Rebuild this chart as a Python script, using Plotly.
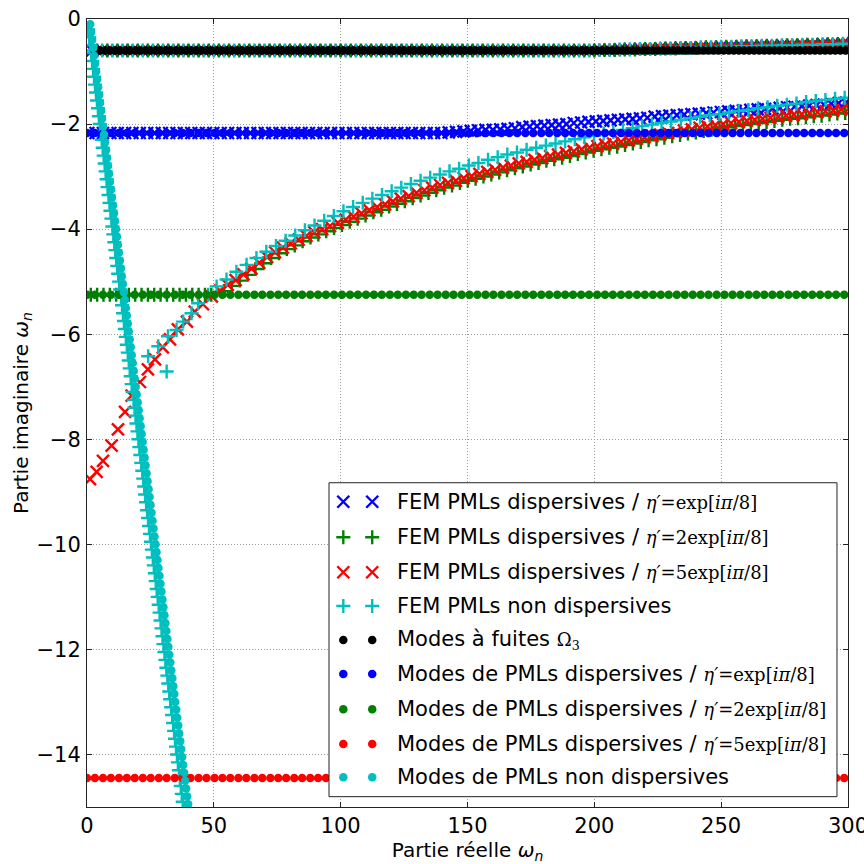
import plotly.graph_objects as go

# ---------------- data ----------------
# Modes à fuites Omega_3 (black dots): real parts, common imaginary part
leaky_re = [3, 5, 7, 9, 11, 13, 15, 17, 19, 21, 23, 25, 27, 29, 31, 33, 35, 37, 39, 41,
            43, 45, 47, 49, 51, 53, 55, 57, 59, 61, 63, 65, 67, 69, 71, 73, 75, 77, 79, 81,
            83, 85, 87, 89, 91, 93, 95, 97, 99, 101, 103, 105, 107, 109, 111, 113, 115, 117,
            119, 121, 123, 125, 127, 129, 131, 133, 135, 137, 139, 141, 143, 145, 147, 149,
            151, 153, 155, 157, 159, 161, 163, 165, 167, 169, 171, 173, 175, 177, 179, 181,
            183, 185, 187, 189, 191, 193, 195, 197, 199, 201, 203, 205, 207, 209, 211, 213,
            215, 217, 219, 221, 223, 225, 227, 229, 231, 233, 235, 237, 239, 241, 243, 245,
            247, 249, 251, 253, 255, 257, 259, 261, 263, 265, 267, 269, 271, 273, 275, 277,
            279, 281, 283, 285, 287, 289, 291, 293, 295, 297, 299]
leaky_im = -0.60

# Dispersive PML modes (dots): shared real parts, one imaginary part per eta'
pml_re = [0, 3.1, 6.3, 9.4, 12.6, 15.7, 18.8, 22.0, 25.1, 28.3, 31.4, 34.6, 37.7, 40.8,
          44.0, 47.1, 50.3, 53.4, 56.5, 59.7, 62.8, 66.0, 69.1, 72.3, 75.4, 78.5, 81.7,
          84.8, 88.0, 91.1, 94.2, 97.4, 100.5, 103.7, 106.8, 110.0, 113.1, 116.2, 119.4,
          122.5, 125.7, 128.8, 131.9, 135.1, 138.2, 141.4, 144.5, 147.7, 150.8, 153.9,
          157.1, 160.2, 163.4, 166.5, 169.6, 172.8, 175.9, 179.1, 182.2, 185.4, 188.5,
          191.6, 194.8, 197.9, 201.1, 204.2, 207.3, 210.5, 213.6, 216.8, 219.9, 223.1,
          226.2, 229.3, 232.5, 235.6, 238.8, 241.9, 245.0, 248.2, 251.3, 254.5, 257.6,
          260.8, 263.9, 267.0, 270.2, 273.3, 276.5, 279.6, 282.7, 285.9, 289.0, 292.2,
          295.3, 298.5]
pml_im_eta1 = -2.17
pml_im_eta2 = -5.25
pml_im_eta5 = -14.45

# Non-dispersive PML modes (cyan dots)
ndpml_re = [1.26, 1.65, 2.04, 2.43, 2.82, 3.21, 3.60, 3.99, 4.38, 4.77, 5.16, 5.55, 5.94,
            6.33, 6.72, 7.11, 7.50, 7.89, 8.28, 8.67, 9.06, 9.45, 9.84, 10.23, 10.62, 11.01,
            11.40, 11.79, 12.18, 12.57, 12.96, 13.35, 13.74, 14.13, 14.52, 14.91, 15.30,
            15.69, 16.08, 16.47, 16.86, 17.25, 17.64, 18.03, 18.42, 18.81, 19.20, 19.59,
            19.98, 20.37, 20.76, 21.15, 21.54, 21.93, 22.32, 22.71, 23.10, 23.49, 23.88,
            24.27, 24.66, 25.05, 25.44, 25.83, 26.22, 26.61, 27.00, 27.39, 27.78, 28.17,
            28.56, 28.95, 29.34, 29.73, 30.12, 30.51, 30.90, 31.29, 31.68, 32.07, 32.46,
            32.85, 33.24, 33.63, 34.02, 34.41, 34.80, 35.19, 35.58, 35.97, 36.36, 36.75,
            37.14, 37.53, 37.92, 38.31, 38.70, 39.09, 39.48, 39.87, 40.26]
ndpml_im = [-0.10, -0.25, -0.40, -0.55, -0.70, -0.85, -1.00, -1.15, -1.30, -1.45, -1.60,
            -1.75, -1.90, -2.05, -2.20, -2.35, -2.50, -2.65, -2.80, -2.95, -3.10, -3.25,
            -3.40, -3.55, -3.70, -3.85, -4.00, -4.15, -4.30, -4.45, -4.60, -4.75, -4.90,
            -5.05, -5.20, -5.35, -5.50, -5.65, -5.80, -5.95, -6.10, -6.25, -6.40, -6.55,
            -6.70, -6.85, -7.00, -7.15, -7.30, -7.45, -7.60, -7.75, -7.90, -8.05, -8.20,
            -8.35, -8.50, -8.65, -8.80, -8.95, -9.10, -9.25, -9.40, -9.55, -9.70, -9.85,
            -10.00, -10.15, -10.30, -10.45, -10.60, -10.75, -10.90, -11.05, -11.20, -11.35,
            -11.50, -11.65, -11.80, -11.95, -12.10, -12.25, -12.40, -12.55, -12.70, -12.85,
            -13.00, -13.15, -13.30, -13.45, -13.60, -13.75, -13.90, -14.05, -14.20, -14.35,
            -14.50, -14.65, -14.80, -14.95, -15.10]

# FEM leaky modes (found by every FEM computation, near Omega_3 modes)
fem_leaky_re_a = [2, 6, 10, 14, 18, 22, 26, 30, 34, 38, 42, 46, 50, 54, 58, 62, 66, 70, 74,
                  78, 82, 86, 90, 94, 98, 102, 106, 110, 114, 118, 122, 126, 130, 134, 138,
                  142, 146, 150, 154, 158, 162, 166, 170, 174, 178, 182, 186, 190, 194, 198]
fem_leaky_re_b = [4, 8, 12, 16, 20, 24, 28, 32, 36, 40, 44, 48, 52, 56, 60, 64, 68, 72, 76,
                  80, 84, 88, 92, 96, 100, 104, 108, 112, 116, 120, 124, 128, 132, 136, 140,
                  144, 148, 152, 156, 160, 164, 168, 172, 176, 180, 184, 188, 192, 196, 200]
fem_leaky_im_flat = -0.60
fem_leaky_re_a_rise = [202, 206, 210, 214, 218, 222, 226, 230, 234, 238, 242, 246, 250, 254,
                       258, 262, 266, 270, 274, 278, 282, 286, 290, 294, 298]
fem_leaky_re_b_rise = [204, 208, 212, 216, 220, 224, 228, 232, 236, 240, 244, 248, 252, 256,
                       260, 264, 268, 272, 276, 280, 284, 288, 292, 296, 300]
fem_leaky_im_rise = [-0.59, -0.59, -0.58, -0.58, -0.57, -0.57, -0.56, -0.56, -0.55, -0.55,
                     -0.54, -0.54, -0.53, -0.53, -0.52, -0.52, -0.51, -0.51, -0.50, -0.50,
                     -0.49, -0.49, -0.48, -0.48, -0.47]

# FEM dispersive PML, eta' = exp[i pi/8] (blue x)
fem_b1_flat_re = [0.5, 3.4, 6.3, 9.2, 12.1, 15.0, 17.9, 20.8, 23.7, 26.6, 29.5, 32.4, 35.3,
                  38.2, 41.1, 44.0, 46.9, 49.8, 52.7, 55.6, 58.5, 61.4, 64.3, 67.2, 70.1,
                  73.0, 75.9, 78.8, 81.7, 84.6, 87.5, 90.4, 93.3, 96.2, 99.1, 102.0, 104.9,
                  107.8, 110.7, 113.6, 116.5, 119.4, 122.3, 125.2, 128.1, 131.0, 133.9,
                  136.8, 139.7]
fem_b1_flat_im = -2.17
fem_b1_rise_re = [142.6, 145.5, 148.4, 151.3, 154.2, 157.1, 160.0, 162.9, 165.8, 168.7,
                  171.6, 174.5, 177.4, 180.3, 183.2, 186.1, 189.0, 191.9, 194.8, 197.7,
                  200.6, 203.5, 206.4, 209.3, 212.2, 215.1, 218.0, 220.9, 223.8, 226.7,
                  229.6, 232.5, 235.4, 238.3, 241.2, 244.1, 247.0, 249.9, 252.8, 255.7,
                  258.6, 261.5, 264.4, 267.3, 270.2, 273.1, 276.0, 278.9, 281.8, 284.7,
                  287.6, 290.5, 293.4, 296.3, 299.2]
fem_b1_rise_im = [-2.16, -2.15, -2.14, -2.13, -2.12, -2.11, -2.11, -2.10, -2.09, -2.08,
                  -2.06, -2.05, -2.04, -2.03, -2.02, -2.01, -2.00, -1.98, -1.97, -1.96,
                  -1.95, -1.94, -1.93, -1.92, -1.91, -1.90, -1.89, -1.88, -1.86, -1.85,
                  -1.84, -1.83, -1.82, -1.81, -1.80, -1.79, -1.78, -1.77, -1.76, -1.75,
                  -1.74, -1.73, -1.72, -1.71, -1.70, -1.69, -1.68, -1.67, -1.66, -1.65,
                  -1.64, -1.63, -1.61, -1.60, -1.59]

# FEM dispersive PML, eta' = 2 exp[i pi/8] (green +)
fem_g2_flat_re = [1.5, 4.0, 6.5, 9.0, 11.5, 14.0, 16.5, 19.0, 21.5, 24.0, 26.5, 29.0, 31.5,
                  34.0, 36.5, 39.0, 41.5, 44.0, 46.5, 49.0]
fem_g2_flat_im = -5.25
fem_g2_curve_re = [54.0, 57.1, 60.2, 63.3, 66.4, 69.5, 72.6, 75.7, 78.8, 81.9, 85.0, 88.1,
                   91.2, 94.3, 97.4, 100.5, 103.6, 106.7, 109.8, 112.9, 116.0, 119.1, 122.2,
                   125.3, 128.4, 131.5, 134.6, 137.7, 140.8, 143.9, 147.0, 150.1, 153.2,
                   156.3, 159.4, 162.5, 165.6, 168.7, 171.8, 174.9, 178.0, 181.1, 184.2,
                   187.3, 190.4, 193.5, 196.6, 199.7, 202.8, 205.9, 209.0, 212.1, 215.2,
                   218.3, 221.4, 224.5, 227.6, 230.7, 233.8, 236.9, 240.0, 243.1, 246.2,
                   249.3, 252.4, 255.5, 258.6, 261.7, 264.8, 267.9, 271.0, 274.1, 277.2,
                   280.3, 283.4, 286.5, 289.6, 292.7, 295.8, 298.9]
fem_g2_curve_im = [-5.18, -5.08, -4.98, -4.87, -4.76, -4.65, -4.55, -4.46, -4.38, -4.31,
                   -4.23, -4.16, -4.10, -4.04, -3.98, -3.92, -3.86, -3.80, -3.74, -3.68,
                   -3.63, -3.57, -3.52, -3.47, -3.41, -3.36, -3.31, -3.26, -3.21, -3.17,
                   -3.12, -3.08, -3.04, -3.00, -2.96, -2.92, -2.88, -2.84, -2.81, -2.77,
                   -2.74, -2.70, -2.67, -2.64, -2.61, -2.57, -2.54, -2.51, -2.48, -2.45,
                   -2.43, -2.40, -2.37, -2.34, -2.31, -2.29, -2.26, -2.23, -2.21, -2.18,
                   -2.16, -2.13, -2.11, -2.08, -2.06, -2.04, -2.02, -2.00, -1.98, -1.96,
                   -1.94, -1.92, -1.90, -1.89, -1.87, -1.85, -1.84, -1.82, -1.80, -1.79]

# FEM dispersive PML, eta' = 5 exp[i pi/8] (red x)
fem_r5_re = [1.2, 3.8, 6.3, 9.7, 12.2, 15.0, 17.6, 20.9, 24.0, 26.8, 29.9, 32.7, 35.8, 39.4,
             42.5, 45.7, 49.2, 52.4, 55.5, 58.6, 61.7, 64.8, 67.9, 71.0, 74.1, 77.2, 80.3,
             83.4, 86.5, 89.6, 92.7, 95.8, 98.9, 102.0, 105.1, 108.2, 111.3, 114.4, 117.5,
             120.6, 123.7, 126.8, 129.9, 133.0, 136.1, 139.2, 142.3, 145.4, 148.5, 151.6,
             154.7, 157.8, 160.9, 164.0, 167.1, 170.2, 173.3, 176.4, 179.5, 182.6, 185.7,
             188.8, 191.9, 195.0, 198.1, 201.2, 204.3, 207.4, 210.5, 213.6, 216.7, 219.8,
             222.9, 226.0, 229.1, 232.2, 235.3, 238.4, 241.5, 244.6, 247.7, 250.8, 253.9,
             257.0, 260.1, 263.2, 266.3, 269.4, 272.5, 275.6, 278.7, 281.8, 284.9, 288.0,
             291.1, 294.2, 297.3, 300.4]
fem_r5_im = [-8.76, -8.62, -8.41, -8.12, -7.81, -7.48, -7.17, -6.91, -6.67, -6.48, -6.25,
             -6.10, -5.91, -5.76, -5.57, -5.43, -5.28, -5.17, -5.06, -4.97, -4.86, -4.75,
             -4.64, -4.53, -4.44, -4.35, -4.27, -4.20, -4.13, -4.06, -4.00, -3.94, -3.88,
             -3.82, -3.76, -3.70, -3.64, -3.58, -3.53, -3.47, -3.42, -3.37, -3.31, -3.26,
             -3.21, -3.16, -3.12, -3.08, -3.03, -2.99, -2.95, -2.91, -2.87, -2.83, -2.79,
             -2.75, -2.72, -2.68, -2.65, -2.61, -2.58, -2.55, -2.52, -2.48, -2.45, -2.42,
             -2.39, -2.37, -2.34, -2.31, -2.28, -2.25, -2.23, -2.20, -2.17, -2.15, -2.12,
             -2.10, -2.07, -2.05, -2.02, -2.00, -1.98, -1.96, -1.94, -1.92, -1.90, -1.88,
             -1.86, -1.84, -1.82, -1.81, -1.79, -1.77, -1.76, -1.74, -1.72, -1.70]

# FEM non-dispersive PML (cyan +): continuum curve and steep PML branch
fem_nd_curve_re = [24.1, 28.1, 31.4, 31.9, 35.3, 37.9, 41.2, 43.8, 47.8, 51.1, 55.0, 58.9,
                   62.9, 66.8, 70.7, 74.5, 78.3, 82.1, 85.9, 89.7, 93.5, 97.3, 101.1, 104.9,
                   108.7, 112.5, 116.3, 120.1, 123.9, 127.7, 131.5, 135.3, 139.1, 142.9,
                   146.7, 150.5, 154.3, 158.1, 161.9, 165.7, 169.5, 173.3, 177.1, 180.9,
                   184.7, 188.5, 192.3, 196.1, 199.9, 203.7, 207.5, 211.3, 215.1, 218.9,
                   222.7, 226.5, 230.3, 234.1, 237.9, 241.7, 245.5, 249.3, 253.1, 256.9,
                   260.7, 264.5, 268.3, 272.1, 275.9, 279.7, 283.5, 287.3, 291.1, 294.9,
                   298.7]
fem_nd_curve_im = [-6.42, -6.23, -6.71, -6.04, -5.92, -5.76, -5.60, -5.41, -5.25, -5.09,
                   -4.96, -4.81, -4.68, -4.55, -4.43, -4.32, -4.22, -4.12, -4.02, -3.93,
                   -3.84, -3.75, -3.66, -3.58, -3.50, -3.42, -3.35, -3.28, -3.21, -3.14,
                   -3.08, -3.02, -2.96, -2.90, -2.85, -2.79, -2.74, -2.68, -2.63, -2.58,
                   -2.54, -2.49, -2.45, -2.41, -2.37, -2.33, -2.29, -2.25, -2.22, -2.18,
                   -2.15, -2.11, -2.08, -2.04, -2.01, -1.98, -1.95, -1.92, -1.89, -1.86,
                   -1.83, -1.81, -1.78, -1.75, -1.73, -1.70, -1.68, -1.65, -1.63, -1.61,
                   -1.58, -1.56, -1.54, -1.52, -1.50]
fem_nd_line_re = [0.50, 0.88, 1.26, 1.64, 2.02, 2.40, 2.78, 3.16, 3.54, 3.92, 4.30, 4.68,
                  5.06, 5.44, 5.82, 6.20, 6.58, 6.96, 7.34, 7.72, 8.10, 8.48, 8.86, 9.24,
                  9.62, 10.00, 10.38, 10.76, 11.14, 11.52, 11.90, 12.28, 12.66, 13.04, 13.42,
                  13.80, 14.18, 14.56, 14.94, 15.32, 15.70, 16.08, 16.46, 16.84, 17.22, 17.60,
                  17.98, 18.36, 18.74, 19.12, 19.50, 19.88, 20.26, 20.64, 21.02, 21.40, 21.78,
                  22.16, 22.54, 22.92, 23.30, 23.68, 24.06, 24.44, 24.82, 25.20, 25.58, 25.96,
                  26.34, 26.72, 27.10, 27.48, 27.86, 28.24, 28.62, 29.00, 29.38, 29.76, 30.14,
                  30.52, 30.90, 31.28, 31.66, 32.04, 32.42, 32.80, 33.18, 33.56, 33.94, 34.32,
                  34.70, 35.08, 35.46, 35.84, 36.22, 36.60, 36.98, 37.36, 37.74, 38.12]
fem_nd_line_im = [-0.20, -0.35, -0.50, -0.65, -0.80, -0.95, -1.10, -1.25, -1.40, -1.55,
                  -1.70, -1.85, -2.00, -2.15, -2.30, -2.45, -2.60, -2.75, -2.90, -3.05,
                  -3.20, -3.35, -3.50, -3.65, -3.80, -3.95, -4.10, -4.25, -4.40, -4.55,
                  -4.70, -4.85, -5.00, -5.15, -5.30, -5.45, -5.60, -5.75, -5.90, -6.05,
                  -6.20, -6.35, -6.50, -6.65, -6.80, -6.95, -7.10, -7.25, -7.40, -7.55,
                  -7.70, -7.85, -8.00, -8.15, -8.30, -8.45, -8.60, -8.75, -8.90, -9.05,
                  -9.20, -9.35, -9.50, -9.65, -9.80, -9.95, -10.10, -10.25, -10.40, -10.55,
                  -10.70, -10.85, -11.00, -11.15, -11.30, -11.45, -11.60, -11.75, -11.90,
                  -12.05, -12.20, -12.35, -12.50, -12.65, -12.80, -12.95, -13.10, -13.25,
                  -13.40, -13.55, -13.70, -13.85, -14.00, -14.15, -14.30, -14.45, -14.60,
                  -14.75, -14.90, -15.05]

x_ticks = [0, 50, 100, 150, 200, 250, 300]
y_ticks = [0, -2, -4, -6, -8, -10, -12, -14]

MATH = "font-family:'DejaVu Serif';font-size:18px"
eta1 = f"<span style=\"{MATH}\"><i>η′</i>=exp[<i>iπ</i>/8]</span>"
eta2 = f"<span style=\"{MATH}\"><i>η′</i>=2exp[<i>iπ</i>/8]</span>"
eta5 = f"<span style=\"{MATH}\"><i>η′</i>=5exp[<i>iπ</i>/8]</span>"
legend_labels = [
    "FEM PMLs dispersives / " + eta1,
    "FEM PMLs dispersives / " + eta2,
    "FEM PMLs dispersives / " + eta5,
    "FEM PMLs non dispersives",
    f"Modes à fuites <span style=\"{MATH}\">Ω<sub>3</sub></span>",
    "Modes de PMLs dispersives / " + eta1,
    "Modes de PMLs dispersives / " + eta2,
    "Modes de PMLs dispersives / " + eta5,
    "Modes de PMLs non dispersives",
]

BLUE, GREEN, RED, CYAN, BLACK = "#0000ff", "#008000", "#ff0000", "#00bfbf", "#000000"

def xmark(c):
    return dict(symbol="x-thin", size=12, color=c, line=dict(color=c, width=2.4))

def pmark(c):
    return dict(symbol="cross-thin", size=10, color=c, line=dict(color=c, width=2.4))

def dmark(c):
    return dict(symbol="circle", size=8.5, color=c, line=dict(width=0))

n_a, n_b = len(fem_leaky_re_a), len(fem_leaky_re_b)

series = [
    (fem_leaky_re_a + fem_leaky_re_a_rise + fem_b1_flat_re + fem_b1_rise_re,
     [fem_leaky_im_flat] * n_a + fem_leaky_im_rise + [fem_b1_flat_im] * len(fem_b1_flat_re) + fem_b1_rise_im,
     xmark(BLUE)),
    (fem_leaky_re_b + fem_leaky_re_b_rise + fem_g2_flat_re + fem_g2_curve_re,
     [fem_leaky_im_flat] * n_b + fem_leaky_im_rise + [fem_g2_flat_im] * len(fem_g2_flat_re) + fem_g2_curve_im,
     pmark(GREEN)),
    (fem_leaky_re_b + fem_leaky_re_b_rise + fem_r5_re,
     [fem_leaky_im_flat] * n_b + fem_leaky_im_rise + fem_r5_im,
     xmark(RED)),
    (fem_leaky_re_a + fem_leaky_re_a_rise + fem_nd_curve_re + fem_nd_line_re,
     [fem_leaky_im_flat] * n_a + fem_leaky_im_rise + fem_nd_curve_im + fem_nd_line_im,
     pmark(CYAN)),
    (leaky_re, [leaky_im] * len(leaky_re), dmark(BLACK)),
    (pml_re, [pml_im_eta1] * len(pml_re), dmark(BLUE)),
    (pml_re, [pml_im_eta2] * len(pml_re), dmark(GREEN)),
    (pml_re, [pml_im_eta5] * len(pml_re), dmark(RED)),
    (ndpml_re, ndpml_im, dmark(CYAN)),
]

fig = go.Figure()
for (xs, ys, mk), name in zip(series, legend_labels):
    fig.add_trace(go.Scatter(x=xs, y=ys, mode="markers", marker=mk, name=name,
                             showlegend=False, hoverinfo="skip"))

# ---- legend drawn in a 0..1 overlay coordinate system ----
box_x = [0.318, 0.9855, 0.9855, 0.318, 0.318]
box_y = [0.0131, 0.0131, 0.4115, 0.4115, 0.0131]
fig.add_trace(go.Scatter(x=box_x, y=box_y, xaxis="x2", yaxis="y2", mode="lines",
                         fill="toself", fillcolor="white", line=dict(color="#222", width=1),
                         showlegend=False, hoverinfo="skip"))
row_v = [0.3874, 0.3423, 0.2979, 0.2551, 0.2119, 0.1688, 0.1240, 0.0799, 0.0377]
sw_u = [0.3368, 0.3748]
for (xs, ys, mk), v in zip(series, row_v):
    fig.add_trace(go.Scatter(x=sw_u, y=[v, v], xaxis="x2", yaxis="y2", mode="markers",
                             marker=mk, showlegend=False, hoverinfo="skip"))
for lab, v in zip(legend_labels, row_v):
    fig.add_annotation(x=0.405, y=v, xref="x2", yref="y2", text=lab, showarrow=False,
                       xanchor="left", yanchor="middle",
                       font=dict(family="DejaVu Sans", size=21, color="black"))

axis_common = dict(showline=True, linecolor="#222", linewidth=1, mirror="ticks",
                   ticks="inside", ticklen=5, tickcolor="#222", tickwidth=1,
                   showgrid=True, gridcolor="#9a9a9a", griddash="1px,2px", gridwidth=1,
                   zeroline=False, automargin=False, ticklabeloverflow="allow",
                   tickfont=dict(family="DejaVu Sans", size=21, color="black"))

fig.update_layout(
    width=864, height=864,
    margin=dict(l=87, r=16, t=19, b=57),
    paper_bgcolor="white", plot_bgcolor="white",
    showlegend=False,
    xaxis=dict(range=[0, 300], tickvals=x_ticks, ticktext=[str(v) for v in x_ticks],
               title=dict(text="Partie réelle <i>ω<sub>n</sub></i>", standoff=4,
                          font=dict(family="DejaVu Sans", size=20, color="black")),
               ticklabelstandoff=0,
               **axis_common),
    yaxis=dict(range=[-15, 0], tickvals=y_ticks,
               ticktext=[("−" + str(-v)) if v < 0 else "0" for v in y_ticks],
               title=dict(text="Partie imaginaire <i>ω<sub>n</sub></i>", standoff=2,
                          font=dict(family="DejaVu Sans", size=20, color="black")),
               ticklabelstandoff=1,
               **axis_common),
    xaxis2=dict(overlaying="x", range=[0, 1], visible=False, fixedrange=True),
    yaxis2=dict(overlaying="y", range=[0, 1], visible=False, fixedrange=True),
)

# remove the default page margin so the 864x864 figure fills the window exactly
fig.write_html("out.html",
               config={"displayModeBar": False},
               post_script="document.body.style.margin='0';"
                           "document.body.style.overflow='hidden';")
